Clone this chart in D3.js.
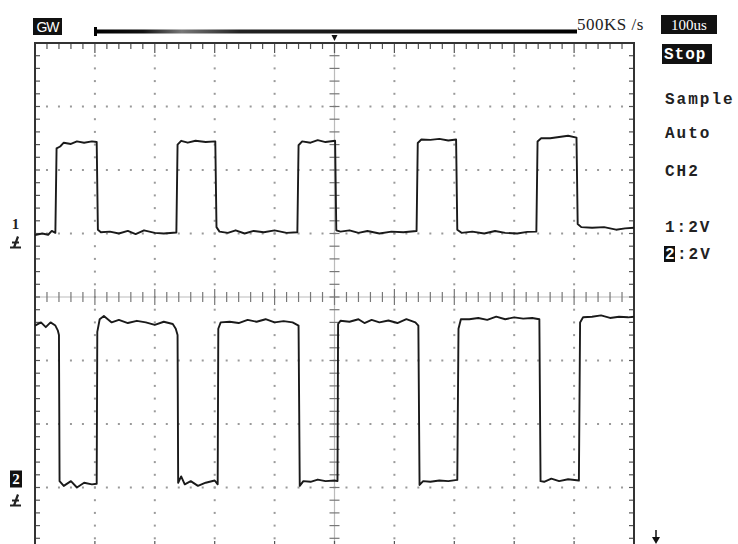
<!DOCTYPE html>
<html>
<head>
  <meta charset="utf-8">
  <title>Scope capture CH1 / CH2</title>
  <style>
    body { margin: 0; background: #fff; }
    svg { display: block; }
    .lbl { font-family: "Liberation Serif", "DejaVu Serif", serif; font-weight: bold; font-size: 15px; fill: #222; letter-spacing: 1px; }
    .menu { font-family: "Liberation Mono", "DejaVu Sans Mono", monospace; font-weight: bold; font-size: 16px; fill: #222; letter-spacing: 2px; }
    .inv { fill: #fff; }
    .trace { fill: none; stroke: #1a1a1a; stroke-width: 1.9; stroke-linejoin: round; }
  </style>
  <script src="https://d3js.org/d3.v7.min.js"></script>
</head>
<body>
  <script>
    // readouts on the screen
    var sidePanel = ['Sample', 'Auto', 'CH2'];
    var chScales = ['1:2V', ':2V'];
    var sampleRate = '500KS /s';
    var timeBase = '100us';

    // graticule: 10 x 100us, 8 x 2V
    var timeRange = [-500, 500];
    var divRange = [-4, 4];
    var ch1Pos = 1, ch2Pos = -3;      // ground marker, in divisions
    var voltsPerDiv = 2;

    // traces, [time us, volts]
    var ch1 = [
      [-500,-0.05],[-488,0.0],[-478,-0.04],[-472,0.08],[-466,0.02],
      [-464,2.68],[-458,2.74],[-452,2.86],[-440,2.82],[-430,2.9],[-418,2.86],[-405,2.9],[-397,2.88],
      [-395,0.12],[-390,0.04],[-375,0.06],[-360,0.0],[-345,0.08],[-332,-0.02],[-318,0.1],[-300,0.02],[-285,0.0],[-264,0.03],
      [-262,2.8],[-256,2.92],[-245,2.86],[-232,2.92],[-215,2.88],[-199,2.9],
      [-197,0.2],[-192,0.06],[-178,0.02],[-165,0.1],[-150,0.0],[-135,0.08],[-118,0.04],[-100,0.1],[-80,0.02],[-62,0.04],
      [-60,2.78],[-54,2.9],[-40,2.86],[-28,2.94],[-15,2.88],[1,2.92],
      [3,0.1],[10,0.06],[25,0.1],[40,0.02],[55,0.08],[75,0.0],[95,0.06],[115,0.04],[137,0.08],
      [139,2.85],[145,2.96],[160,2.95],[175,2.98],[190,2.93],[203,2.96],
      [205,0.12],[212,0.02],[230,0.06],[250,0.0],[268,0.08],[285,0.02],[305,0.0],[322,0.05],[337,0.06],
      [339,2.9],[345,3.0],[360,3.0],[375,3.04],[390,3.08],[404,3.02],
      [406,0.3],[412,0.2],[430,0.18],[450,0.2],[470,0.12],[485,0.16],[500,0.18]
    ];
    var ch2 = [
      [-500,5.1],[-490,5.2],[-482,5.05],[-474,5.2],[-466,5.1],[-462,4.95],[-460,4.8],
      [-459,0.2],[-452,0.05],[-440,0.2],[-430,0.0],[-418,0.15],[-405,0.1],[-397,0.12],
      [-396,4.9],[-392,5.3],[-385,5.4],[-372,5.2],[-360,5.28],[-345,5.18],[-330,5.25],[-315,5.2],[-300,5.12],[-285,5.22],[-270,5.15],[-265,5.0],[-262,4.8],
      [-261,0.15],[-256,0.35],[-250,0.1],[-240,0.2],[-228,0.05],[-215,0.15],[-200,0.22],[-195,0.1],
      [-194,5.0],[-190,5.2],[-175,5.22],[-160,5.18],[-145,5.28],[-130,5.22],[-115,5.3],[-100,5.2],[-85,5.24],[-70,5.2],[-60,5.1],
      [-58,0.05],[-52,0.2],[-40,0.18],[-28,0.25],[-15,0.2],[0,0.22],[5,0.2],
      [6,5.15],[10,5.25],[25,5.22],[40,5.3],[50,5.18],[62,5.28],[75,5.2],[90,5.26],[105,5.18],[120,5.3],[135,5.2],[140,5.1],
      [142,0.08],[148,0.2],[160,0.18],[175,0.22],[190,0.2],[205,0.24],
      [207,5.0],[211,5.3],[225,5.3],[240,5.34],[255,5.28],[270,5.38],[285,5.3],[300,5.36],[315,5.32],[330,5.34],[342,5.3],
      [344,0.2],[350,0.18],[362,0.28],[375,0.2],[390,0.26],[408,0.22],
      [410,5.2],[415,5.36],[430,5.38],[445,5.42],[460,5.34],[475,5.38],[490,5.36],[500,5.38]
    ];

    var width = 738, height = 544;
    var svg = d3.select('body').append('svg')
      .attr('width', width)
      .attr('height', height);

    var x = d3.scaleLinear().domain(timeRange).range([35, 634]);
    var y = d3.scaleLinear().domain(divRange).range([551, 43]);

    var g = svg.append('g');

    // dotted division lines
    var minorT = d3.range(timeRange[0], timeRange[1] + 1, 20);
    var minorD = d3.range(divRange[0], divRange[1] + 0.01, 0.2);
    var majorT = d3.range(-400, 401, 100).filter(d => d !== 0);
    var majorD = d3.range(-3, 4, 1).filter(d => d !== 0);

    majorT.forEach(function(t) {
      g.selectAll(null).data(minorD).enter().append('rect')
        .attr('x', x(t) - 1).attr('y', d => y(d) - 1)
        .attr('width', 2).attr('height', 2).attr('fill', '#9a9a9a');
    });
    majorD.forEach(function(dv) {
      g.selectAll(null).data(minorT).enter().append('rect')
        .attr('x', d => x(d) - 1).attr('y', y(dv) - 1)
        .attr('width', 2).attr('height', 2).attr('fill', '#9a9a9a');
    });

    // center cross with ticks
    g.append('line').attr('x1', x(timeRange[0])).attr('x2', x(timeRange[1]))
      .attr('y1', y(0)).attr('y2', y(0)).attr('stroke', '#bbb').attr('stroke-width', 1.2);
    g.append('line').attr('x1', x(0)).attr('x2', x(0))
      .attr('y1', y(divRange[0])).attr('y2', y(divRange[1])).attr('stroke', '#bbb').attr('stroke-width', 1.2);
    g.selectAll(null).data(minorT).enter().append('line')
      .attr('x1', d => x(d)).attr('x2', d => x(d))
      .attr('y1', d => y(0) - (d % 100 === 0 ? 8 : 5)).attr('y2', d => y(0) + (d % 100 === 0 ? 8 : 5))
      .attr('stroke', '#777').attr('stroke-width', 1.2);
    g.selectAll(null).data(minorD).enter().append('line')
      .attr('y1', d => y(d)).attr('y2', d => y(d))
      .attr('x1', x(0) - 5).attr('x2', x(0) + 5)
      .attr('stroke', '#777').attr('stroke-width', 1.2);

    // ticks along the frame
    g.selectAll(null).data(minorT).enter().append('line')
      .attr('x1', d => x(d)).attr('x2', d => x(d))
      .attr('y1', y(divRange[1])).attr('y2', d => y(divRange[1]) + (d % 100 === 0 ? 10 : 6))
      .attr('stroke', '#555').attr('stroke-width', 1.2);
    g.selectAll(null).data(minorT).enter().append('line')
      .attr('x1', d => x(d)).attr('x2', d => x(d))
      .attr('y1', y(divRange[0])).attr('y2', d => y(divRange[0]) - (d % 100 === 0 ? 10 : 6))
      .attr('stroke', '#555').attr('stroke-width', 1.2);
    [timeRange[0], timeRange[1]].forEach(function(t) {
      var s = t < 0 ? 1 : -1;
      g.selectAll(null).data(minorD).enter().append('line')
        .attr('y1', d => y(d)).attr('y2', d => y(d))
        .attr('x1', x(t)).attr('x2', x(t) + s * 5)
        .attr('stroke', '#555').attr('stroke-width', 1.2);
    });

    g.append('rect')
      .attr('x', x(timeRange[0])).attr('y', y(divRange[1]))
      .attr('width', x(timeRange[1]) - x(timeRange[0]))
      .attr('height', y(divRange[0]) - y(divRange[1]))
      .attr('fill', 'none').attr('stroke', '#333').attr('stroke-width', 2);

    // traces
    function traceLine(pos) {
      return d3.line().x(d => x(d[0])).y(d => y(pos + d[1] / voltsPerDiv));
    }
    svg.append('path').attr('class', 'trace').attr('d', traceLine(ch1Pos)(ch1));
    svg.append('path').attr('class', 'trace').attr('d', traceLine(ch2Pos)(ch2));

    // channel ground markers
    function probeMark(cx, cy) {
      svg.append('path')
        .attr('d', 'M' + (cx + 2) + ',' + (cy - 6) + ' L' + (cx - 2) + ',' + (cy + 5) +
                   ' M' + (cx - 6) + ',' + (cy + 5) + ' L' + (cx + 5) + ',' + (cy + 5) +
                   ' M' + (cx - 4) + ',' + (cy) + ' L' + (cx + 3) + ',' + (cy))
        .attr('stroke', '#222').attr('stroke-width', 2.2).attr('fill', 'none');
    }
    svg.append('text').attr('class', 'lbl').attr('x', 16).attr('y', y(ch1Pos) - 5)
      .attr('text-anchor', 'middle').text('1');
    probeMark(16, y(ch1Pos) + 9);
    svg.append('rect').attr('x', 10).attr('y', y(ch2Pos) - 17).attr('width', 12).attr('height', 17).attr('fill', '#111');
    svg.append('text').attr('class', 'lbl inv').attr('x', 16).attr('y', y(ch2Pos) - 3.5)
      .attr('text-anchor', 'middle').style('letter-spacing', '0').text('2');
    probeMark(16, y(ch2Pos) + 13);

    // top status line
    var grad = svg.append('defs').append('linearGradient').attr('id', 'mem');
    grad.append('stop').attr('offset', '0%').attr('stop-color', '#000');
    grad.append('stop').attr('offset', '10%').attr('stop-color', '#111');
    grad.append('stop').attr('offset', '18%').attr('stop-color', '#777');
    grad.append('stop').attr('offset', '30%').attr('stop-color', '#222');
    grad.append('stop').attr('offset', '100%').attr('stop-color', '#000');
    svg.append('rect').attr('x', 95).attr('y', 29.5).attr('width', 482).attr('height', 4).attr('fill', 'url(#mem)');
    svg.append('rect').attr('x', 94).attr('y', 27).attr('width', 3).attr('height', 9).attr('fill', '#000');

    svg.append('rect').attr('x', 33).attr('y', 18).attr('width', 29).attr('height', 17).attr('fill', '#111');
    svg.append('text').attr('class', 'lbl inv').attr('x', 47.5).attr('y', 32)
      .attr('text-anchor', 'middle').style('letter-spacing', '-1px').style('font-weight', 'normal')
      .style('font-family', '"Liberation Sans", sans-serif').style('font-size', '14px').text('GW');

    svg.append('text').attr('class', 'lbl').attr('x', 577).attr('y', 30)
      .style('font-weight', 'normal').style('letter-spacing', '0.5px').style('font-size', '17px').text(sampleRate);
    svg.append('rect').attr('x', 661).attr('y', 15).attr('width', 56).attr('height', 19).attr('fill', '#111');
    svg.append('text').attr('class', 'lbl inv').attr('x', 689).attr('y', 30)
      .attr('text-anchor', 'middle').style('font-weight', 'normal').style('letter-spacing', '0').style('font-size', '15px').text(timeBase);

    // trigger position marker
    svg.append('path')
      .attr('d', 'M' + (x(0) - 3) + ',35 L' + (x(0) + 3) + ',35 L' + x(0) + ',41 Z')
      .attr('fill', '#111');

    // right hand menu
    svg.append('rect').attr('x', 662).attr('y', 44).attr('width', 50).attr('height', 20).attr('fill', '#111');
    svg.append('text').attr('class', 'menu inv').attr('x', 664).attr('y', 59).style('letter-spacing', '1px').text('Stop');
    svg.selectAll('.side').data(sidePanel).enter().append('text')
      .attr('class', 'menu side').attr('x', 665)
      .attr('y', (d, i) => [104, 138, 176][i])
      .text(d => d);
    svg.append('text').attr('class', 'menu').attr('x', 665).attr('y', 232).text(chScales[0]);
    svg.append('rect').attr('x', 664).attr('y', 246).attr('width', 11).attr('height', 16).attr('fill', '#111');
    svg.append('text').attr('class', 'menu inv').attr('x', 665).attr('y', 259).text('2');
    svg.append('text').attr('class', 'menu').attr('x', 677).attr('y', 259).text(chScales[1]);

    // bottom right arrow
    svg.append('path').attr('d', 'M656,530 L656,541').attr('stroke', '#111').attr('stroke-width', 1.5);
    svg.append('path').attr('d', 'M652,537 L660,537 L656,544 Z').attr('fill', '#111');
  </script>
</body>
</html>
